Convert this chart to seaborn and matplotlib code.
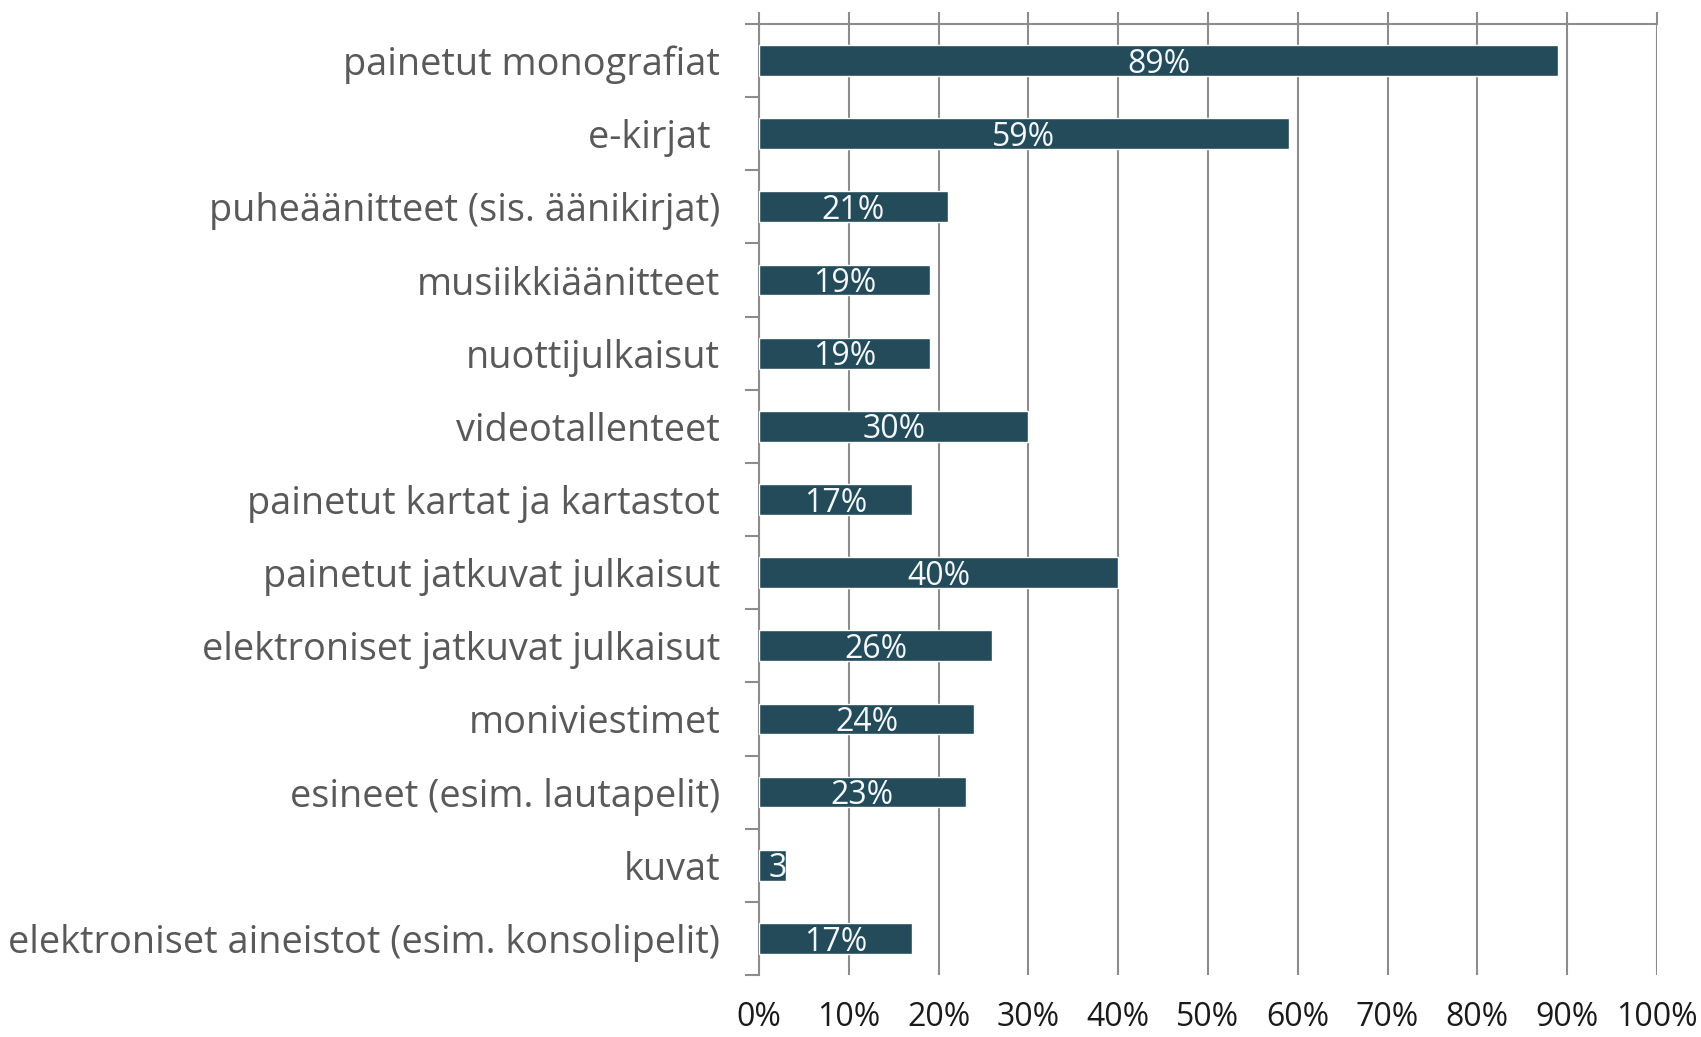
import matplotlib
matplotlib.use("Agg")
import matplotlib.pyplot as plt
import matplotlib.ticker as mticker
import seaborn as sns
import pandas as pd
import numpy as np

sns.set_style("white")
plt.rcParams['font.family'] = ['Open Sans', 'DejaVu Sans']

# Data
categories = [
    "painetut monografiat",
    "e-kirjat ",
    "puheäänitteet (sis. äänikirjat)",
    "musiikkiäänitteet",
    "nuottijulkaisut",
    "videotallenteet",
    "painetut kartat ja kartastot",
    "painetut jatkuvat julkaisut",
    "elektroniset jatkuvat julkaisut",
    "moniviestimet",
    "esineet (esim. lautapelit)",
    "kuvat",
    "elektroniset aineistot (esim. konsolipelit)",
]
values = [89, 59, 21, 19, 19, 30, 17, 40, 26, 24, 23, 3, 17]
x_ticks = [0, 10, 20, 30, 40, 50, 60, 70, 80, 90, 100]

df = pd.DataFrame({"category": categories, "share": values})

bar_color = "#234B5A"
grid_color = "#8C8C8C"

fig = plt.figure(figsize=(17.01, 10.37), dpi=100)
ax = fig.add_axes([0.4462, 0.0598, 0.9741 - 0.4462, 0.9769 - 0.0598])

sns.barplot(data=df, x="share", y="category", orient="h", color=bar_color,
            width=0.42, saturation=1, ax=ax, zorder=3)

ax.set_xlim(0, 100)
ax.set_ylim(len(categories) - 0.5, -0.5)
ax.set_xticks(x_ticks)
ax.xaxis.set_major_formatter(mticker.FuncFormatter(lambda v, p: f"{v:.0f}%"))
ax.grid(axis="x", color=grid_color, linewidth=1.5, zorder=0)
ax.set_axisbelow(True)
ax.set_xlabel("")
ax.set_ylabel("")

for side in ["right", "bottom"]:
    ax.spines[side].set_visible(False)
for side in ["top", "left"]:
    ax.spines[side].set_color(grid_color)
    ax.spines[side].set_linewidth(1.5)

# x ticks: marks on top, labels at bottom
ax.tick_params(axis="x", which="major", top=True, bottom=False, labeltop=False,
               labelbottom=True, direction="out", length=9, width=1.5,
               color=grid_color, pad=10, labelsize=23, labelcolor="#1a1a1a")

# y ticks: boundary marks between categories
ax.yaxis.set_minor_locator(mticker.FixedLocator(np.arange(-0.5, len(categories), 1.0)))
ax.tick_params(axis="y", which="minor", left=True, length=10, width=1.5, color=grid_color)
ax.tick_params(axis="y", which="major", left=True, length=10, width=0, pad=18,
               labelsize=27.3, labelcolor="#595959")

# data labels, clipped to the bar like the original
for bar, v in zip(ax.patches, values):
    cy = bar.get_y() + bar.get_height() / 2 + 0.05
    if v < 5:
        # too narrow: text starts inside the bar and gets cut off
        t = ax.annotate(f"{v}%", (bar.get_x(), cy), xytext=(7, 0),
                        textcoords="offset points", ha="left", va="center",
                        color="#F4F8FA", fontsize=23, zorder=4)
    else:
        cx = bar.get_x() + bar.get_width() / 2
        t = ax.text(cx, cy, f"{v}%", ha="center", va="center",
                    color="#F4F8FA", fontsize=23, zorder=4)
    t.set_clip_path(bar)

fig.savefig("out.png", dpi=100)
